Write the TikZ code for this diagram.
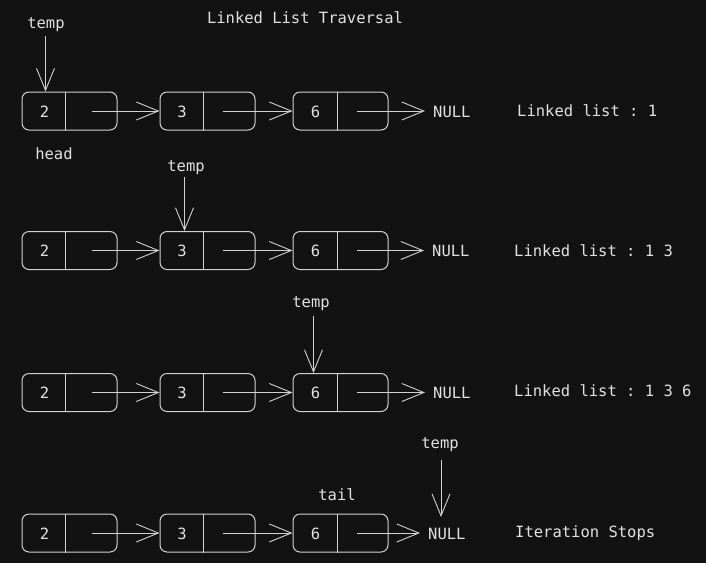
\documentclass[tikz,border=0pt]{standalone}
\usepackage{fontspec}
\setmonofont{DejaVu Sans Mono}
\usetikzlibrary{arrows.meta}
\definecolor{bg}{HTML}{121212}
\definecolor{ink}{HTML}{D2D2D2}
\definecolor{txt}{HTML}{E2E2E2}
\begin{document}
\begin{tikzpicture}[x=1pt,y=-1pt,
  cell/.style={draw=ink, line width=1pt, rounded corners=7pt, minimum width=95pt, minimum height=38pt, inner sep=0pt},
  lbl/.style={text=txt, font=\ttfamily\fontsize{15.5}{18}\selectfont, inner sep=0pt, anchor=base},
  lblw/.style={lbl, anchor=base west},
  ptr/.style={draw=ink, line width=0.9pt, -{Straight Barb[length=22pt,width=18pt,line width=0.9pt]}},
  divider/.style={draw=ink, line width=1pt},
]
\fill[bg] (0,0) rectangle (706,563);
\useasboundingbox (0,0) rectangle (706,563);

\node[lbl] (title) at (305,23) {Linked List Traversal};

\foreach \r/\y/\nx in {1/111/433, 2/250.5/432, 3/392.5/433, 4/533/428} {
  \node[cell] (a\r) at (69.5,\y) {};
  \node[cell] (b\r) at (207.5,\y) {};
  \node[cell] (c\r) at (340.5,\y) {};
  \draw[divider] ([xshift=44pt]a\r.north west) -- ([xshift=44pt]a\r.south west);
  \draw[divider] ([xshift=44pt]b\r.north west) -- ([xshift=44pt]b\r.south west);
  \draw[divider] ([xshift=45pt]c\r.north west) -- ([xshift=45pt]c\r.south west);
  \node[lbl] (va\r) at (44.5,\y+6) {2};
  \node[lbl] (vb\r) at (182,\y+6) {3};
  \node[lbl] (vc\r) at (315.5,\y+6) {6};
  \node[lblw] (n\r) at (\nx,\y+6) {NULL};
  \coordinate (sa\r) at (92,\y);
  \coordinate (sb\r) at (223,\y);
  \coordinate (sc\r) at (357,\y);
  \coordinate (en\r) at (\nx-8,\y);
  \draw[ptr] (sa\r) -- (b\r.west);
  \draw[ptr] (sb\r) -- (c\r.west);
  \draw[ptr] (sc\r) -- (en\r);
}

% row 1
\node[lbl] (t1) at (46,28) {temp};
\coordinate (tp1) at (45.5,36);
\draw[ptr] (tp1) -- (tp1 |- a1.north);
\node[lbl] (head) at (54,159) {head};
\node[lblw] (r1) at (517,116) {Linked list : 1};

% row 2
\node[lbl] (t2) at (186,171) {temp};
\coordinate (tp2) at (184.5,177);
\draw[ptr] (tp2) -- (tp2 |- b2.north);
\node[lblw] (r2) at (514,256.5) {Linked list : 1 3};

% row 3
\node[lbl] (t3) at (311,307) {temp};
\coordinate (tp3) at (313.5,316);
\draw[ptr] (tp3) -- (tp3 |- c3.north);
\node[lblw] (r3) at (514,396) {Linked list : 1 3 6};

% row 4
\node[lbl] (t4) at (440,448) {temp};
\coordinate (tp4) at (441,460);
\coordinate (te4) at (441,517);
\draw[ptr] (tp4) -- (te4);
\node[lbl] (tail) at (337,500) {tail};
\node[lblw] (r4) at (515,537) {Iteration Stops};
\end{tikzpicture}
\end{document}
